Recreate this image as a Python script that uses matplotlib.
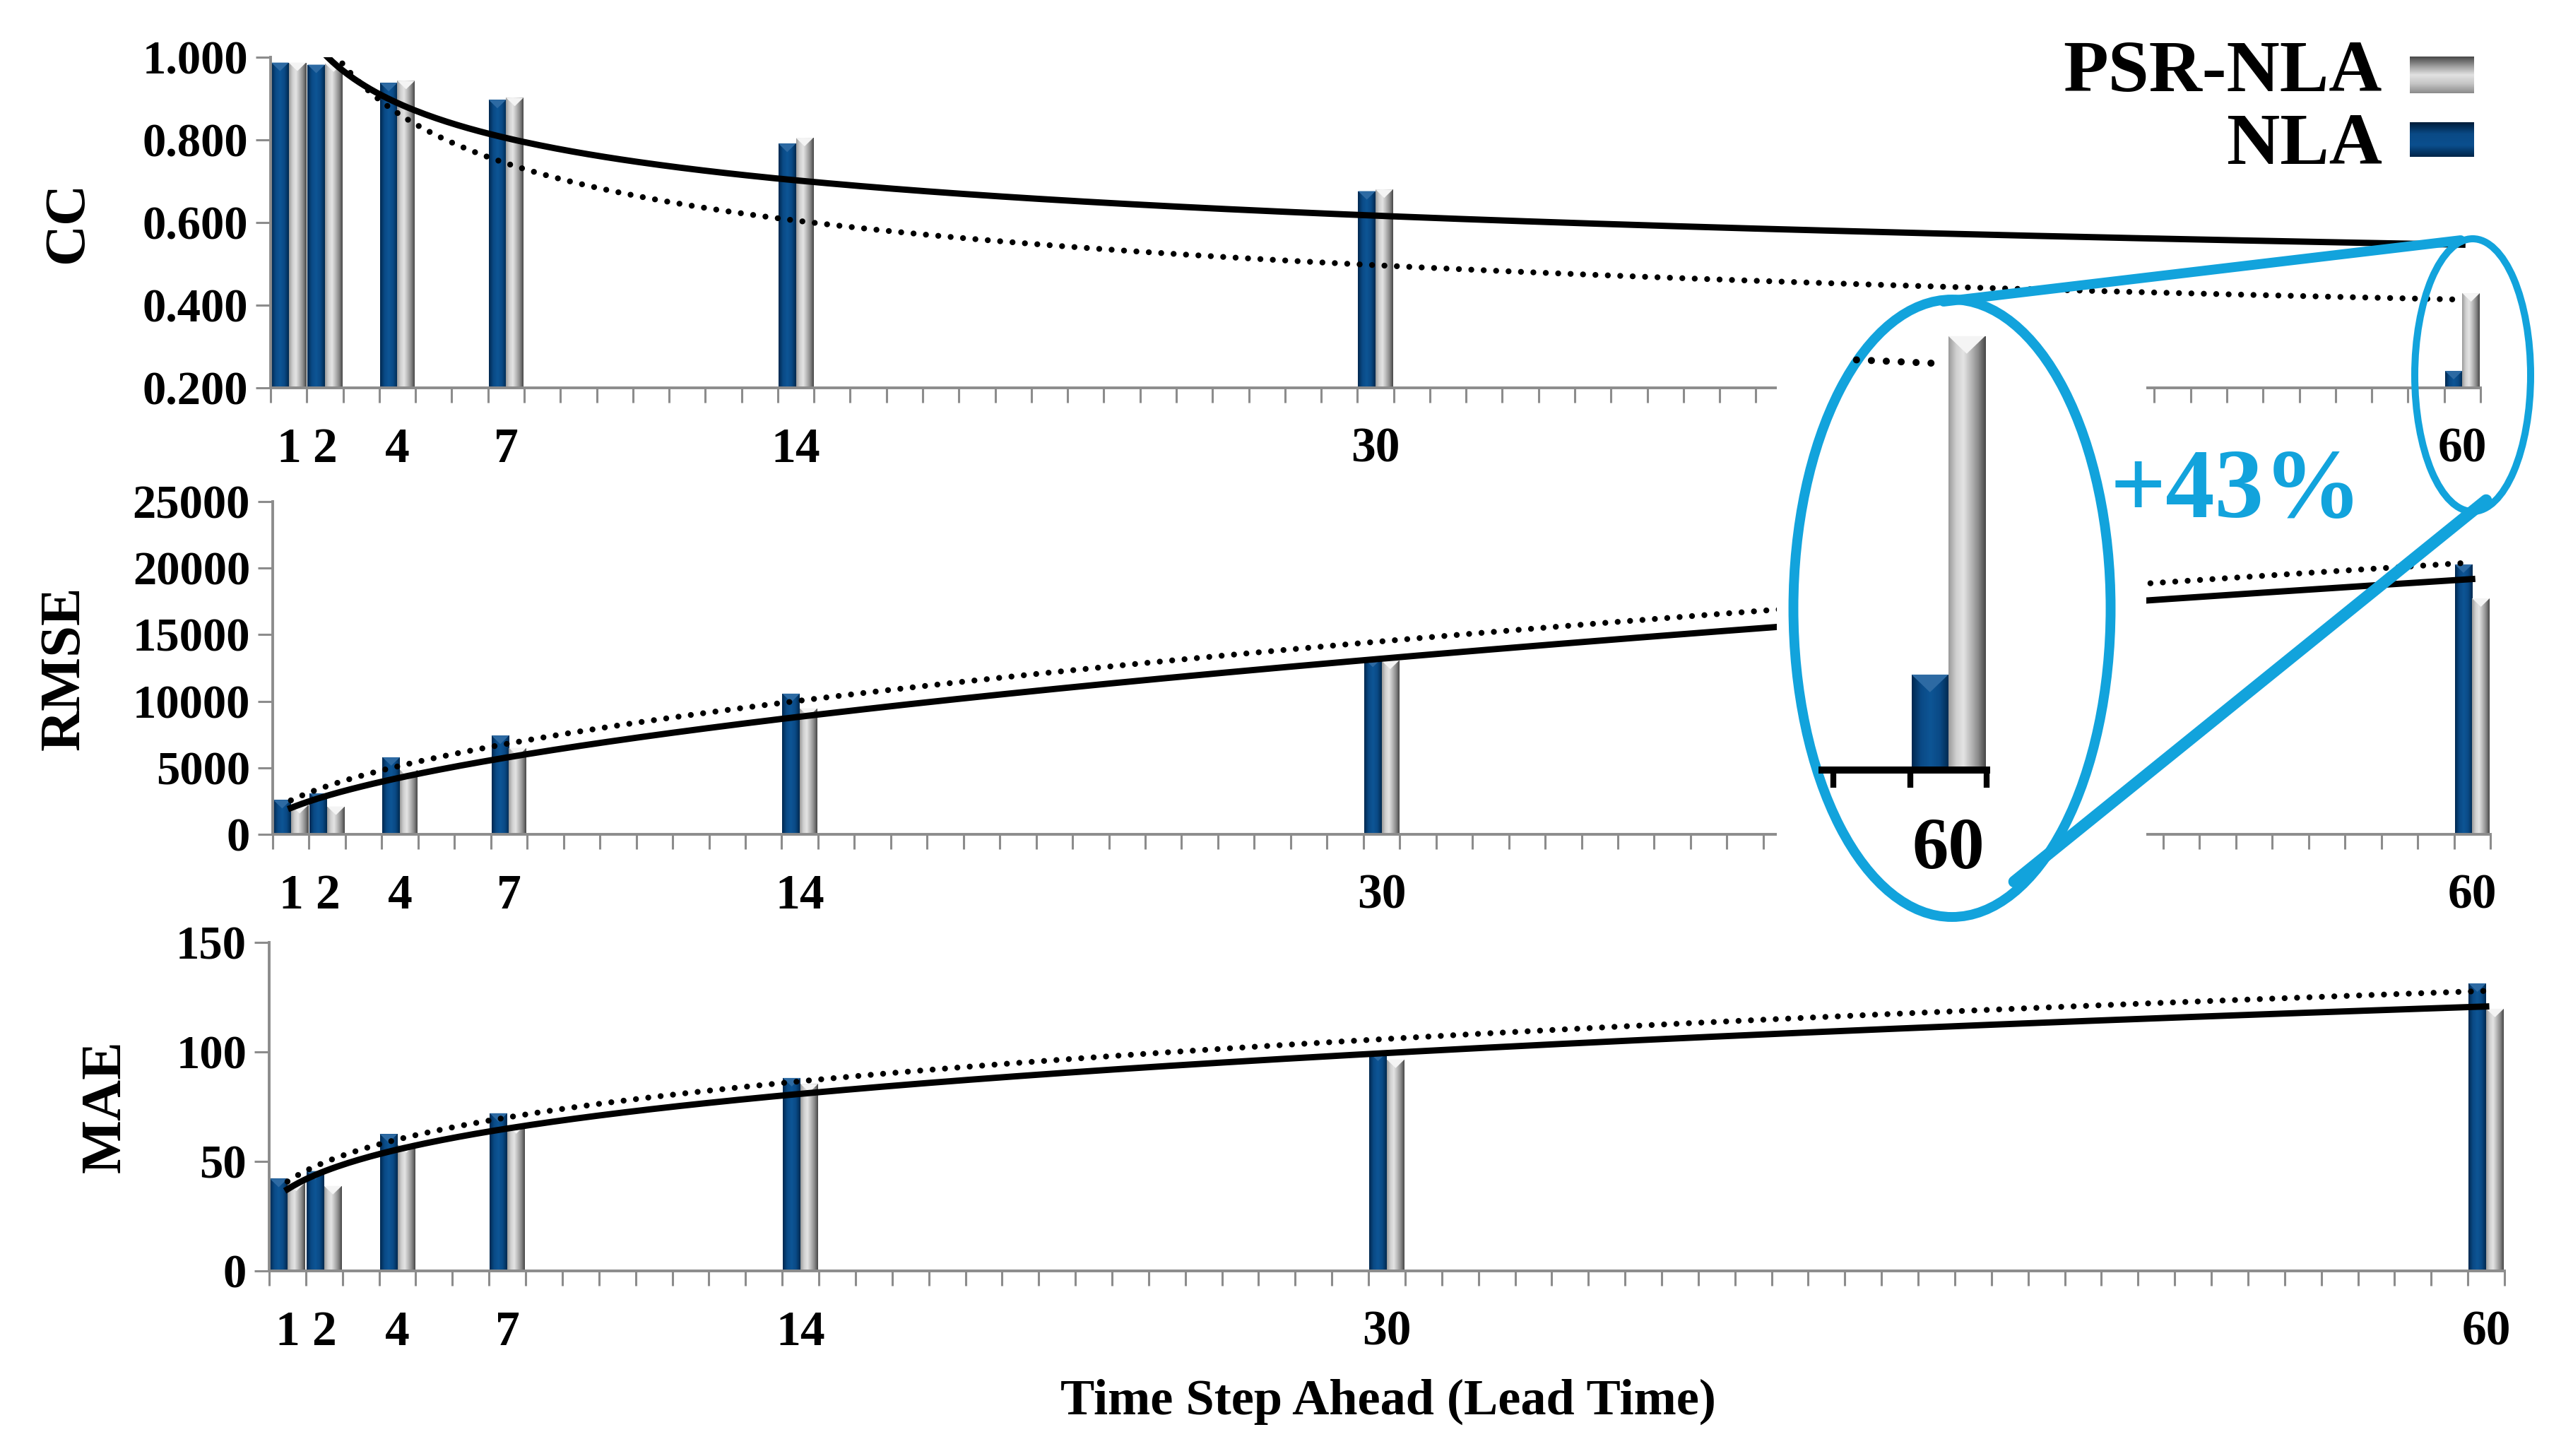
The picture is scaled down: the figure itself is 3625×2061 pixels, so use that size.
import numpy as np
import matplotlib
matplotlib.use("Agg")
import matplotlib.pyplot as plt
from matplotlib.colors import LinearSegmentedColormap
from matplotlib.patches import Ellipse, Rectangle, Polygon
from matplotlib.ticker import FixedLocator

plt.rcParams['font.family'] = ['Liberation Serif', 'DejaVu Serif']
plt.rcParams['font.weight'] = 'bold'

W, H, DPI = 3625, 2061, 200

# data
lead_times = [1, 2, 4, 7, 14, 30, 60]
axis_slot = [1, 2, 4, 7, 15, 31, 61]   # category position on the 61-slot axis
n_slots = 61

cc_nla = [0.987, 0.982, 0.938, 0.897, 0.791, 0.676, 0.241]
cc_psr = [0.987, 0.985, 0.943, 0.902, 0.805, 0.680, 0.429]
rmse_nla = [2580, 3080, 5790, 7420, 10570, 13200, 20280]
rmse_psr = [2200, 2090, 4850, 6500, 9470, 13050, 17730]
mae_nla = [42.1, 45.6, 62.5, 72.0, 88.1, 99.7, 131.3]
mae_psr = [40.3, 38.8, 57.8, 66.5, 85.4, 96.5, 119.7]

BLUE = '#12a3dc'
GRID = '#8c8c8c'
gray_cmap = LinearSegmentedColormap.from_list(
    'g', ['#9a9a9a', '#cfcfcf', '#e4e4e4', '#bababa', '#8a8a8a', '#474747'])
navy_cmap = LinearSegmentedColormap.from_list(
    'b', ['#00284f', '#0a4a86', '#0d5595', '#0a4a86', '#00294f'])
grad = np.linspace(0, 1, 128)[None, :]


def px_box(l, t, r, b):
    return [l / W, 1 - b / H, (r - l) / W, (b - t) / H]


def power_fit(x, y):
    b, lna = np.polyfit(np.log(x), np.log(y), 1)
    return lambda t: np.exp(lna) * t ** b


def draw_bars(ax, slots, vals, offset, cmap, bevel, ylim, ax_h, depth_px=12, width=0.48):
    x = np.array(slots, dtype=float) + offset
    base = ylim[0]
    heights = np.array(vals, dtype=float) - base
    bars = ax.bar(x, heights, width=width, bottom=base, color=cmap(0.5), linewidth=0, zorder=2)
    depth = depth_px * (ylim[1] - ylim[0]) / ax_h
    for rect in bars:
        x0, w = rect.get_x(), rect.get_width()
        top = rect.get_y() + rect.get_height()
        im = ax.imshow(grad, cmap=cmap, extent=(x0, x0 + w, base, top), aspect='auto',
                       interpolation='bilinear', zorder=2.1)
        im.set_clip_path(rect)
        ax.add_patch(Polygon([(x0, top), (x0 + w, top), (x0 + w / 2, top - depth)],
                             closed=True, color=bevel, lw=0, zorder=2.2))


DOTS = (0, (0.01, 2.1))


def trend_lines(ax, slots, nla, psr, t):
    f_psr = power_fit(slots, psr)
    f_nla = power_fit(slots, nla)
    ax.plot(t, f_psr(t), color='black', lw=3.2, zorder=3)
    ax.plot(t, f_nla(t), color='black', lw=3.0, ls=DOTS, dash_capstyle='round', zorder=3)
    return f_nla, f_psr


fig = plt.figure(figsize=(W / DPI, H / DPI), dpi=DPI)
fig.patch.set_facecolor('white')

panels = [
    ('CC', cc_nla, cc_psr, (0.2, 1.0), [0.2, 0.4, 0.6, 0.8, 1.0], '{:.3f}', (383, 81, 3511, 549)),
    ('RMSE', rmse_nla, rmse_psr, (0, 25000), [0, 5000, 10000, 15000, 20000, 25000], '{:.0f}',
     (386, 710, 3525, 1181)),
    ('MAE', mae_nla, mae_psr, (0, 150), [0, 50, 100, 150], '{:.0f}', (381, 1334, 3545, 1799)),
]

t = np.linspace(1, n_slots, 400)
fits = {}
for name, nla, psr, ylim, yticks, fmt, box in panels:
    ax = fig.add_axes(px_box(*box))
    ax_h = box[3] - box[1]
    draw_bars(ax, axis_slot, nla, -0.24, navy_cmap, '#2d6aa3', ylim, ax_h)
    draw_bars(ax, axis_slot, psr, 0.24, gray_cmap, '#f4f4f4', ylim, ax_h)
    fits[name] = trend_lines(ax, axis_slot, nla, psr, t)

    ax.set_xlim(0.5, n_slots + 0.5)
    ax.set_ylim(*ylim)
    ax.set_xticks(axis_slot)
    ax.set_xticklabels([str(v) for v in lead_times])
    ax.xaxis.set_minor_locator(FixedLocator(np.arange(0.5, n_slots + 0.6, 1)))
    ax.tick_params(axis='x', which='major', length=0, pad=20, labelsize=25)
    ax.tick_params(axis='x', which='minor', length=7.5, width=1.1, color=GRID, direction='out')
    ax.set_yticks(yticks)
    ax.set_yticklabels([fmt.format(v) for v in yticks])
    ax.tick_params(axis='y', length=7.5, width=1.1, color=GRID, pad=4, labelsize=24)
    for s in ('top', 'right'):
        ax.spines[s].set_visible(False)
    for s in ('left', 'bottom'):
        ax.spines[s].set_color(GRID)
        ax.spines[s].set_linewidth(1.4)
    ax.set_facecolor('none')

# overlay in pixel coordinates
ov = fig.add_axes([0, 0, 1, 1], zorder=5)
ov.axis('off')
ov.patch.set_alpha(0)

ov.add_patch(Rectangle((2515, 435), 3038 - 2515, 1310 - 435, color='white', lw=0, zorder=1))
ov.add_patch(Ellipse((3500, 531), 164, 386, fill=False, ec=BLUE, lw=3.6, zorder=3))
ov.add_patch(Ellipse((2763, 861), 449, 874, fill=False, ec=BLUE, lw=5, zorder=3))
ov.plot([2751, 3483], [427, 340], color=BLUE, lw=5, solid_capstyle='round', zorder=3)
ov.plot([2851, 3519], [1248, 708], color=BLUE, lw=6, solid_capstyle='round', zorder=3)
ov.text(3165, 699, '+43%', color=BLUE, fontsize=50, fontweight='bold',
        ha='center', va='center', zorder=4)

# axis titles
ov.text(97, 315, 'CC', rotation=90, ha='center', va='center', fontsize=29)
ov.text(92, 946, 'RMSE', rotation=90, ha='center', va='center', fontsize=29)
ov.text(150, 1566, 'MAE', rotation=90, ha='center', va='center', fontsize=29)
ov.text(1965, 1984, 'Time Step Ahead (Lead Time)', ha='center', va='center', fontsize=26)

# legend
leg_gray = LinearSegmentedColormap.from_list('lg', ['#4a4a4a', '#9a9a9a', '#e2e2e2', '#c4c4c4', '#8c8c8c'])
leg_navy = LinearSegmentedColormap.from_list('ln', ['#001d3a', '#0a4a86', '#0b4f8e', '#00264b'])
col = np.linspace(0, 1, 64)[:, None]
ov.imshow(col, cmap=leg_gray, extent=(3411, 3502, 132, 80), aspect='auto', zorder=2)
ov.imshow(col, cmap=leg_navy, extent=(3411, 3502, 222, 173), aspect='auto', zorder=2)
ov.text(3372, 129, 'PSR-NLA', ha='right', va='baseline', fontsize=37.5, fontweight='bold')
ov.text(3372, 232, 'NLA', ha='right', va='baseline', fontsize=37.5, fontweight='bold')
ov.set_xlim(0, W)
ov.set_ylim(H, 0)

# magnified view of the CC bars at lead time 60
ins_box = (2579, 440, 2812, 1090)
ins = fig.add_axes(px_box(*ins_box), zorder=6)
ins_ylim = (0.188, 0.443)
ins_h = ins_box[3] - ins_box[1]
draw_bars(ins, axis_slot[-1:], cc_nla[-1:], -0.24, navy_cmap, '#2d6aa3', ins_ylim, ins_h, depth_px=25)
draw_bars(ins, axis_slot[-1:], cc_psr[-1:], 0.24, gray_cmap, '#f4f4f4', ins_ylim, ins_h, depth_px=25)
f_nla_cc = fits['CC'][0]
ts = np.linspace(59.8, 60.92, 40)
ins.plot(ts, f_nla_cc(ts), color='black', lw=3.6, ls=DOTS, dash_capstyle='round', zorder=3)
ins.set_xlim(59.35, 61.5)
ins.set_ylim(*ins_ylim)
ins.set_xticks([axis_slot[-1]])
ins.set_xticklabels([str(lead_times[-1])])
ins.xaxis.set_minor_locator(FixedLocator([59.5, 60.5, 61.5]))
ins.tick_params(axis='x', which='major', length=0, pad=24, labelsize=37)
ins.tick_params(axis='x', which='minor', length=9, width=3, color='black', direction='out')
ins.set_yticks([])
for s in ('top', 'right', 'left'):
    ins.spines[s].set_visible(False)
ins.spines['bottom'].set_color('black')
ins.spines['bottom'].set_linewidth(3.6)
ins.patch.set_alpha(0)

fig.savefig('out.png', dpi=DPI, facecolor='white')
